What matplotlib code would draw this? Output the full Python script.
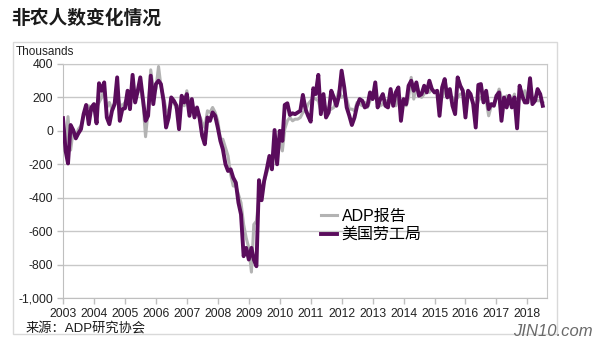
import matplotlib
matplotlib.use('Agg')
import matplotlib.pyplot as plt
import matplotlib.dates as mdates
from matplotlib.patches import Rectangle
from matplotlib.ticker import FuncFormatter
import numpy as np
import pandas as pd

plt.rcParams['font.family'] = ['Liberation Sans', 'Noto Sans CJK SC', 'DejaVu Sans']

# monthly change, thousands, Jan 2003 - Jul 2018
bls = [76, -120, -195, 35, 5, -45, -15, 10, 100, 155, 40, 140,
       160, 45, 285, 240, 290, 80, 40, 120, 160, 320, 60, 130,
       135, 240, 130, 335, 170, 240, 320, 190, 60, 90, 330, 160,
       280, 300, 280, 180, 20, 80, 200, 180, 150, 10, 210, 170,
       220, 90, 190, 80, 140, 75, -30, -80, 80, 60, 110, 90,
       20, -60, -110, -200, -240, -230, -280, -310, -430, -500, -750, -700,
       -770, -700, -770, -810, -295, -415, -300, -230, -150, -230, 5, -200,
       0, -60, 155, 165, 95, 105, 100, 110, 120, 215, 130, 90,
       55, 255, 220, 335, 100, 220, 80, 110, 240, 200, 150, 210,
       360, 260, 140, 90, 35, 80, 150, 190, 180, 140, 150, 230,
       190, 290, 140, 190, 220, 150, 140, 250, 150, 230, 260, 60,
       190, 160, 270, 300, 240, 290, 210, 220, 270, 230, 300, 250,
       230, 240, 90, 260, 310, 200, 250, 150, 100, 320, 270, 240,
       80, 240, 220, 160, 20, 275, 280, 170, 240, 130, 160, 150,
       210, 230, 60, 200, 140, 210, 140, 200, 15, 270, 210, 170,
       170, 315, 160, 180, 250, 220, 150]

adp = [50, -100, 85, -115, 0, -40, 10, 30, 90, 130, 150, 120,
       130, 140, 170, 200, 250, 140, 170, 130, 170, 220, 160, 150,
       170, 200, 170, 250, 200, 230, 260, 170, -35, 120, 365, 250,
       250, 385, 270, 200, 130, 100, 180, 170, 130, 120, 200, 150,
       240, 130, 160, 110, 120, 90, 50, 20, 120, 110, 140, 110,
       60, -50, -50, -100, -150, -260, -330, -330, -380, -430, -560, -640,
       -700, -845, -560, -540, -400, -350, -300, -250, -200, -180, -150, -100,
       -60, -120, 10, 60, 80, 60, 70, 70, 80, 110, 120, 160,
       180, 200, 190, 180, 120, 160, 140, 120, 130, 140, 190, 240,
       200, 210, 190, 130, 130, 120, 170, 160, 150, 170, 140, 180,
       200, 200, 180, 150, 160, 180, 180, 170, 160, 150, 200, 180,
       170, 150, 200, 320, 190, 280, 230, 200, 220, 240, 230, 250,
       230, 240, 190, 200, 240, 230, 200, 200, 180, 200, 220, 220,
       220, 200, 200, 170, 120, 180, 200, 180, 180, 90, 150, 160,
       200, 250, 200, 180, 210, 170, 180, 220, 100, 230, 190, 240,
       190, 230, 200, 190, 180, 180, 170]

months = pd.date_range('2003-01-01', periods=len(bls), freq='MS')

fig = plt.figure(figsize=(6, 3.45), dpi=100)

# outer frame
fig.patches.append(Rectangle((13/600, 1-334/345), 544/600, 292/345,
                             transform=fig.transFigure, fill=False,
                             edgecolor='#d9d9d9', linewidth=1))

ax = fig.add_axes([63/600, 1-298/345, 484/600, 234/345])

ax.plot(months, adp, color='#b3b3b3', lw=2.2, label='ADP报告', zorder=3)
ax.plot(months, bls, color='#5a0c5c', lw=2.8, label='美国劳工局', zorder=4)

ax.set_ylim(-1000, 400)
ax.set_yticks(np.arange(-1000, 401, 200))
ax.yaxis.set_major_formatter(FuncFormatter(lambda v, p: f'{int(v):,}'))
ax.set_xlim(pd.Timestamp('2003-01-01'), pd.Timestamp('2018-08-20'))
ax.xaxis.set_major_locator(mdates.YearLocator())
ax.xaxis.set_major_formatter(mdates.DateFormatter('%Y'))

ax.grid(axis='y', color='#c8c8c8', lw=1)
ax.set_axisbelow(True)
for s in ['top', 'right']:
    ax.spines[s].set_color('#c8c8c8')
ax.spines['left'].set_color('#bfbfbf')
ax.spines['bottom'].set_color('#bfbfbf')
ax.tick_params(axis='both', colors='#bfbfbf', labelcolor='#222222',
               labelsize=8.8, length=4, width=1)
ax.tick_params(axis='y', pad=3)
ax.tick_params(axis='x', pad=3)

ax.legend(loc='upper left', bbox_to_anchor=(313/600, 1-201/345),
          bbox_transform=fig.transFigure, frameon=False, fontsize=11.5,
          handlelength=1.0, handletextpad=0.3, labelspacing=0.2,
          borderpad=0)

fig.text(11/600, 1-18/345, '非农人数变化情况', fontsize=13.5, va='center',
         ha='left', color='#1a1a1a', fontweight='bold',
         family=['Noto Sans CJK SC', 'DejaVu Sans'])
fig.text(16/600, 1-52/345, 'Thousands', fontsize=8.5, va='center',
         ha='left', color='#222222')
fig.text(26/600, 1-328/345, '来源：ADP研究协会', fontsize=9.5, va='center',
         ha='left', color='#1a1a1a')
fig.text(593/600, 1-331/345, 'JIN10.com', fontsize=12, va='center',
         ha='right', color='#6a6a6a', style='italic')

fig.savefig('out.png', dpi=100)
